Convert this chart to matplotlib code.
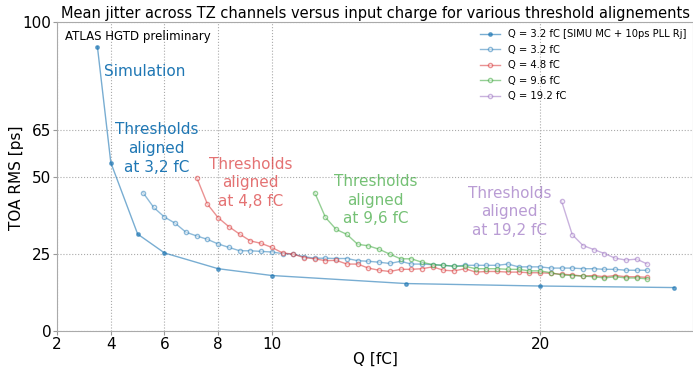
import numpy as np
import matplotlib.pyplot as plt

# -----------------------------
# Données
# -----------------------------
q_sim = [3.5, 4, 5, 6, 8, 10, 15, 20, 25]
rms_sim = [92.0, 54.5, 31.4, 25.3, 20.2, 18.0, 15.4, 14.6, 14.1]

q_32 = [5.2, 5.6, 6.0, 6.4, 6.8, 7.2, 7.6, 8.0, 8.4, 8.8, 9.2, 9.6, 10.0, 10.4, 10.8,
        11.2, 11.6, 12.0, 12.4, 12.8, 13.2, 13.6, 14.0, 14.4, 14.8, 15.2, 15.6, 16.0,
        16.4, 16.8, 17.2, 17.6, 18.0, 18.4, 18.8, 19.2, 19.6, 20.0, 20.4, 20.8, 21.2,
        21.6, 22.0, 22.4, 22.8, 23.2, 23.6, 24.0]
rms_32 = [44.8, 40.0, 36.9, 34.9, 32.0, 30.8, 29.7, 28.2, 27.1, 26.0, 26.0, 25.8, 25.6,
          25.1, 24.9, 24.1, 23.6, 23.6, 23.5, 23.5, 22.8, 22.6, 22.3, 21.9, 22.6, 21.7,
          21.7, 21.5, 21.3, 21.0, 21.3, 21.3, 21.3, 21.3, 21.7, 20.8, 20.8, 20.8, 20.4,
          20.4, 20.4, 20.2, 20.2, 20.0, 20.0, 19.7, 19.7, 19.7]

q_48 = [7.2, 7.6, 8.0, 8.4, 8.8, 9.2, 9.6, 10.0, 10.4, 10.8, 11.2, 11.6, 12.0, 12.4,
        12.8, 13.2, 13.6, 14.0, 14.4, 14.8, 15.2, 15.6, 16.0, 16.4, 16.8, 17.2, 17.6,
        18.0, 18.4, 18.8, 19.2, 19.6, 20.0, 20.4, 20.8, 21.2, 21.6, 22.0, 22.4, 22.8,
        23.2, 23.6, 24.0]
rms_48 = [49.7, 41.1, 36.7, 33.8, 31.4, 29.2, 28.4, 27.1, 25.3, 24.9, 23.8, 23.4, 22.8,
          22.9, 21.7, 21.7, 20.4, 19.7, 19.3, 20.0, 20.0, 20.2, 20.8, 19.7, 19.5, 20.2,
          19.1, 19.3, 19.3, 19.1, 19.1, 18.9, 18.9, 18.7, 18.4, 18.2, 17.8, 18.0, 17.6,
          18.0, 17.6, 17.6, 17.4]

q_96 = [11.6, 12.0, 12.4, 12.8, 13.2, 13.6, 14.0, 14.4, 14.8, 15.2, 15.6, 16.0, 16.4,
        16.8, 17.2, 17.6, 18.0, 18.4, 18.8, 19.2, 19.6, 20.0, 20.4, 20.8, 21.2, 21.6,
        22.0, 22.4, 22.8, 23.2, 23.6, 24.0]
rms_96 = [44.8, 36.8, 32.9, 31.3, 28.1, 27.6, 26.5, 24.9, 23.4, 23.4, 22.3, 21.5, 21.3,
          21.0, 21.0, 20.2, 20.2, 20.2, 20.0, 20.0, 19.5, 19.5, 18.9, 18.2, 18.0, 17.8,
          17.6, 17.2, 17.6, 17.2, 17.2, 16.9]

q_192 = [20.8, 21.2, 21.6, 22.0, 22.4, 22.8, 23.2, 23.6, 24.0]
rms_192 = [42.1, 31.2, 27.7, 26.4, 25.1, 23.6, 23.0, 23.3, 21.7]

x_ticks = [2, 4, 6, 8, 10, 20]
y_ticks = [0, 25, 50, 65, 100]

blue = '#1f77b4'
red = '#d62728'
green = '#2ca02c'
purple = '#9467bd'

# -----------------------------
# Figure
# -----------------------------
fig = plt.figure(figsize=(6.93, 3.70), dpi=100)
ax = fig.add_axes([0.0825, 0.105, 0.9175, 0.8355])

ax.plot(q_sim, rms_sim, '-', color=blue, alpha=0.6, lw=1, marker='.', ms=5,
        mfc=blue, mec=blue, label='Q = 3.2 fC [SIMU MC + 10ps PLL Rj]')
ax.plot(q_32, rms_32, '-o', color=blue, alpha=0.5, lw=1, ms=3, mfc='white',
        label='Q = 3.2 fC')
ax.plot(q_48, rms_48, '-o', color=red, alpha=0.5, lw=1, ms=3, mfc='white',
        label='Q = 4.8 fC')
ax.plot(q_96, rms_96, '-o', color=green, alpha=0.5, lw=1, ms=3, mfc='white',
        label='Q = 9.6 fC')
ax.plot(q_192, rms_192, '-o', color=purple, alpha=0.5, lw=1, ms=3, mfc='white',
        label='Q = 19.2 fC')

ax.set_xlim(2, 25.7)
ax.set_ylim(0, 100)
ax.set_xticks(x_ticks)
ax.set_yticks(y_ticks)
ax.tick_params(labelsize=11, length=3, color='#999999', pad=1)
ax.grid(True, ls=':', color='#aaaaaa', lw=0.8)
for s in ax.spines.values():
    s.set_color('#aaaaaa')

ax.set_xlabel('Q [fC]', fontsize=11, labelpad=0)
ax.set_ylabel('TOA RMS [ps]', fontsize=11)
ax.yaxis.set_label_coords(-0.052, 0.497)
ax.set_title('Mean jitter across TZ channels versus input charge for various threshold alignements',
             fontsize=10.5, pad=3)

ax.text(0.012, 0.975, 'ATLAS HGTD preliminary', transform=ax.transAxes, fontsize=8.5,
        va='top', ha='left')

ax.text(3.75, 84, 'Simulation', color=blue, fontsize=11, ha='left', va='center')
ax.text(5.71, 59.1, 'Thresholds\naligned\nat 3,2 fC', color=blue, fontsize=11,
        ha='center', va='center', linespacing=1.3)
ax.text(9.22, 48.0, 'Thresholds\naligned\nat 4,8 fC', color=red, alpha=0.65,
        fontsize=11, ha='center', va='center', linespacing=1.3)
ax.text(13.86, 42.4, 'Thresholds\naligned\nat 9,6 fC', color=green, alpha=0.65,
        fontsize=11, ha='center', va='center', linespacing=1.3)
ax.text(18.87, 38.6, 'Thresholds\naligned\nat 19,2 fC', color=purple, alpha=0.65,
        fontsize=11, ha='center', va='center', linespacing=1.3)

ax.legend(loc='upper right', fontsize=7.2, frameon=False, handlelength=2.0,
          borderaxespad=0.3, labelspacing=0.55)

fig.savefig('out.png', dpi=100)
